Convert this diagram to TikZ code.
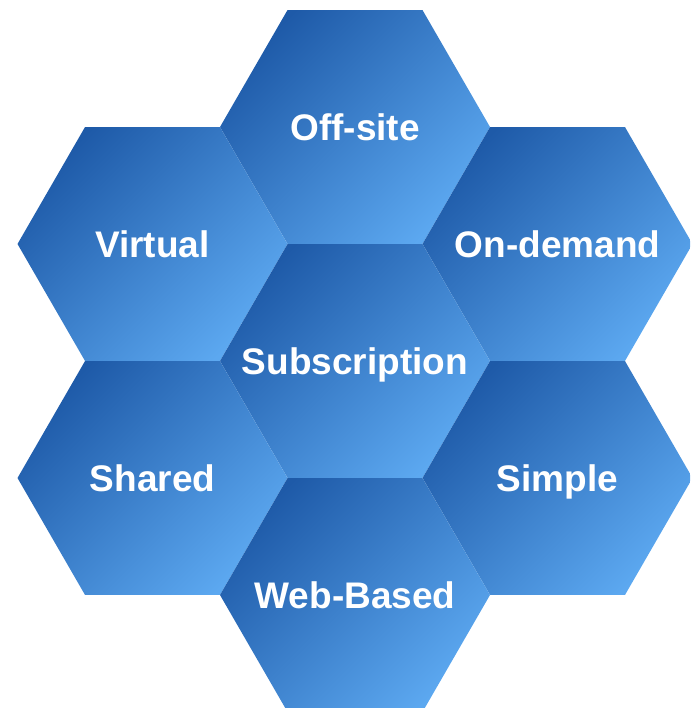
\documentclass[tikz,border=0pt]{standalone}
\usepackage{fontspec}
\setmainfont{Liberation Sans}
\usetikzlibrary{shapes.geometric}
\definecolor{hexdark}{HTML}{1E5AA8}
\definecolor{hexlight}{HTML}{5CA8F0}
\begin{document}
\begin{tikzpicture}[x=1pt,y=1pt,
  hexcell/.style={regular polygon, regular polygon sides=6,
    minimum size=270pt, inner sep=0pt, outer sep=0pt,
    top color=hexdark, bottom color=hexlight, shading angle=45},
  hexlabel/.style={text=white, font=\fontsize{37}{40}\selectfont\bfseries,
    inner sep=0pt, text height=26.5pt, text depth=0pt}]
\useasboundingbox (0,0) rectangle (690,708);
\clip (0,0) rectangle (690,708);
% honeycomb of seven cells
\node[hexcell] (offsite)  at (355,581)   {};
\node[hexcell] (virtual)  at (152.5,464) {};
\node[hexcell] (ondemand) at (557.5,464) {};
\node[hexcell] (subscr)   at (355,347)   {};
\node[hexcell] (shared)   at (152.5,230) {};
\node[hexcell] (simple)   at (557.5,230) {};
\node[hexcell] (webbased) at (355,113)   {};
% cell labels
\node[hexlabel] (toffsite)  at (offsite.center)  {Off-site};
\node[hexlabel] (tvirtual)  at (virtual.center)  {Virtual};
\node[hexlabel] (tondemand) at (ondemand.center) {On-demand};
\node[hexlabel] (tsubscr)   at (subscr.center)   {Subscription};
\node[hexlabel] (tshared)   at (shared.center)   {Shared};
\node[hexlabel] (tsimple)   at (simple.center)   {Simple};
\node[hexlabel] (twebbased) at (webbased.center) {Web-Based};
\end{tikzpicture}
\end{document}
